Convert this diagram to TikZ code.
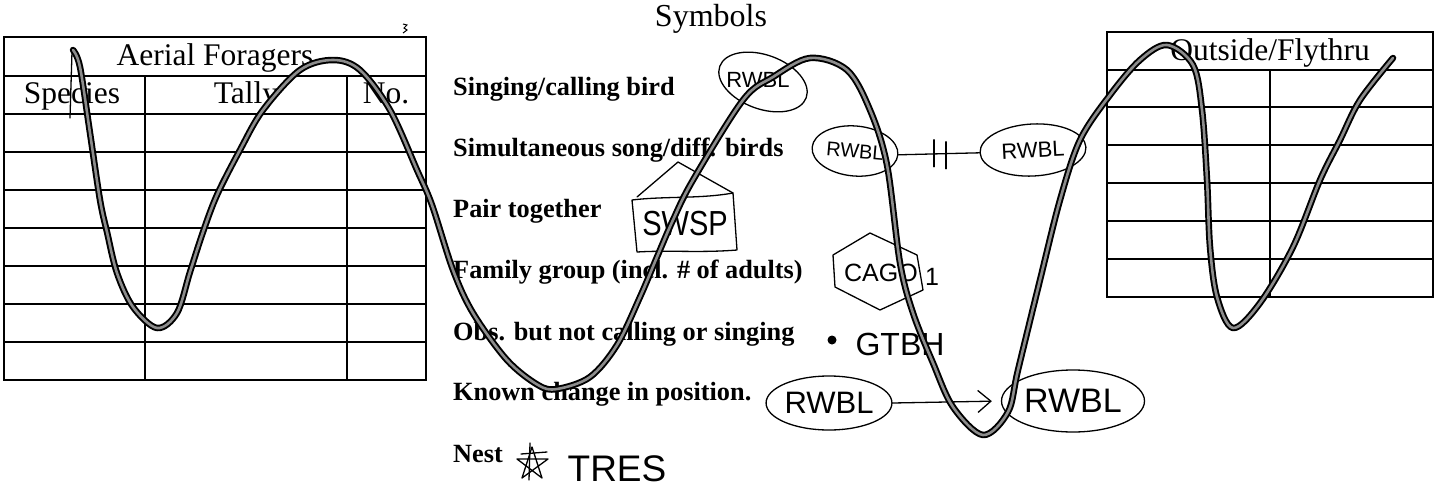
\documentclass[tikz,border=0pt]{standalone}
\usepackage{fontspec}
\setmainfont{Liberation Serif}
\newfontfamily\handfont{Liberation Sans}
\usetikzlibrary{shapes.geometric,arrows.meta,calc}

\begin{document}
\begin{tikzpicture}[x=1pt,y=-1pt,
  gridline/.style={line width=1.4pt},
  ink/.style={line width=1.3pt, line join=round, line cap=round},
  cell/.style={font=\fontsize{31.5}{36}\selectfont, inner sep=0pt, anchor=base},
  legendtext/.style={font=\bfseries\fontsize{26.3}{30}\selectfont, inner sep=0pt, anchor=base west},
  hand/.style={font=\handfont\fontsize{#1}{#1}\selectfont, inner sep=0pt},
  oval/.style={ellipse, draw, ink, inner sep=0pt},
]
\useasboundingbox (0,0) rectangle (1440,498);
\fill[white] (0,0) rectangle (1440,498);

% ---- Aerial Foragers tally table ----
\draw[gridline] (4,37) rectangle (426,380);
\foreach \yy in {76,114,152,190,228,266,304,342}
  \draw[gridline] (4,\yy) -- (426,\yy);
\draw[gridline] (145,76) -- (145,380);
\draw[gridline] (347,76) -- (347,380);
\node[cell] (aerial) at (215,65) {Aerial Foragers};
\node[cell] (species) at (72,103) {Species};
\node[cell] (tally) at (246,103) {Tally};
\node[cell] (no) at (386,103) {No.};
% stray pen mark above the table
\draw[line width=1pt] (403,24) -- (407,25) -- (404,28) -- (407,30) -- (403,33);

% ---- Outside/Flythru table ----
\draw[gridline] (1107,32) rectangle (1433,297);
\foreach \yy in {70,107,145,183,221,259}
  \draw[gridline] (1107,\yy) -- (1433,\yy);
\draw[gridline] (1270,70) -- (1270,297);
\node[cell] (outside) at (1270,60) {Outside/Flythru};

% ---- symbol legend ----
\node[cell, font=\fontsize{32}{36}\selectfont] (symbols) at (711,26) {Symbols};
\node[legendtext] (l1) at (453,95)  {Singing/calling bird};
\node[legendtext] (l2) at (453,156) {Simultaneous song/diff. birds};
\node[legendtext] (l3) at (453,217) {Pair together};
\node[legendtext] (l4) at (453,278) {Family group (incl. \# of adults)};
\node[legendtext] (l5) at (453,340) {Obs. but not calling or singing};
\node[legendtext] (l6) at (453,400) {Known change in position.};
\node[legendtext] (l7) at (453,462) {Nest};

% singing bird: circled code
\node[oval, minimum width=92, minimum height=54, rotate=-20] (sing) at (763,82) {};
\node[hand=22] (singtxt) at (758,80) {RWBL};

% simultaneous song: two circled codes joined by a broken line
\node[oval, hand=20, minimum width=86, minimum height=50, rotate=-5] (simA) at (855,151) {RWBL};
\node[oval, hand=22, minimum width=106, minimum height=52, rotate=3] (simB) at (1033,150) {RWBL};
\draw[ink] (simA.east) -- (simB.west);
\coordinate (simmid) at ($(simA.east)!0.5!(simB.west)$);
\draw[ink] ($(simmid)+(-5,-14)$) -- ++(0,27);
\draw[ink] ($(simmid)+(7,-12)$) -- ++(0,27);

% pair: code inside a house outline
\draw[ink] (632,200) .. controls (665,196) and (700,199) .. (733,193)
  -- (737,250) .. controls (700,253) and (670,250) .. (637,252) -- cycle;
\draw[ink] (637,197) -- (678,162) -- (733,193);
\node[hand=29] (swsp) at (685,224) {\scalebox{1}[1.2]{SWSP}};

% family group: code inside a hexagon, number of adults beside it
\draw[ink] (870,233) -- (917,255) -- (923,290) -- (880,310) -- (835,287) -- (833,255) -- cycle;
\node[hand=25, anchor=east] (cago) at (918,273) {CAGO};
\node[hand=25, anchor=west] (cagon) at (925,277) {1};

% observed only: dot before the code
\fill (832,340) circle (4.5);
\node[hand=32] (gtbh) at (900,344) {GTBH};

% known change in position: circled code, arrow, circled code
\node[oval, hand=31, minimum width=118, minimum height=54] (posA) at (829,403) {RWBL\hspace{10pt}};
\node[oval, hand=34, minimum width=143, minimum height=62] (posB) at (1073,401) {RWBL\hspace{8pt}};
\draw[ink, shorten >=9pt, -{Straight Barb[length=13pt,width=22pt]}] (posA.east) -- (posB.west);

% nest: star before the code
\draw[ink] (532,447) -- (542,478) -- (517,459) -- (548,459) -- (522,478) -- cycle;
\draw[ink] (521,454) -- (547,452);
\draw[ink] (530,443) -- (529,480);
\node[hand=37] (tres) at (617,469) {TRES};

% ---- marker scribble across the sheet ----
\draw[ink] (72,52) -- (70,118);
\def\scribble{plot[smooth, tension=0.55] coordinates {
  (73,50) (80,67) (90,133) (100,200) (107,232) (117,273) (133,307) (157,328)
  (177,313) (190,272) (203,232) (217,195) (240,150) (263,110) (300,70) (333,60)
  (360,70) (390,110) (417,170) (432,205) (453,270) (473,313) (507,360) (538,385)
  (557,389) (590,377) (617,345) (640,297) (657,257) (673,220) (693,180) (743,100)
  (773,77) (810,58) (847,70) (870,110) (887,165) (900,263) (913,313) (933,363)
  (953,407) (983,435) (1008,412) (1018,370) (1040,280) (1060,200) (1080,140)
  (1110,95) (1140,60) (1167,45) (1193,65) (1202,110) (1207,180) (1210,247)
  (1217,297) (1233,328) (1260,303) (1293,247) (1320,180) (1340,140) (1360,100)
  (1393,58)}}
\draw[line width=6.5pt, line cap=round, line join=round, black] \scribble;
\draw[line width=2.6pt, line cap=round, line join=round, black!45] \scribble;
\end{tikzpicture}
\end{document}
